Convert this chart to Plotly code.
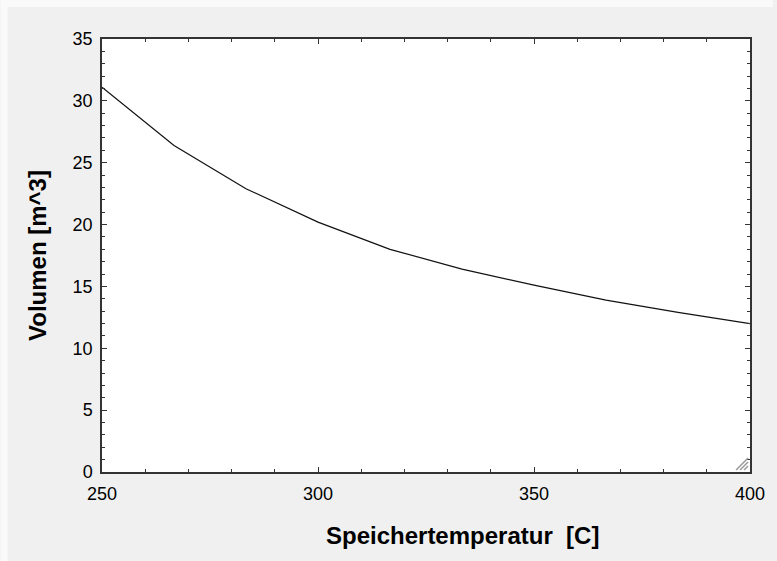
import plotly.graph_objects as go

# Storage temperature [C] and required volume [m^3]
temperature = [250, 266.67, 283.33, 300, 316.67, 333.33, 350, 366.67, 383.33, 400]
volume = [31.1, 26.4, 22.9, 20.2, 18.0, 16.4, 15.1, 13.9, 12.9, 12.0]

x_title = "Speichertemperatur  [C]"
y_title = "Volumen [m^3]"

W, H = 777, 561
L, R, T, B = 102, 23, 39, 89
pw, ph = W - L - R, H - T - B


def px_x(p):
    return (p - L) / pw


def px_y(p):
    return (H - B - p) / ph


fig = go.Figure()
fig.add_trace(go.Scatter(
    x=temperature, y=volume, mode="lines",
    line=dict(color="#111111", width=1.2),
    showlegend=False, hoverinfo="skip",
))

font = dict(family="Liberation Sans, Arial, sans-serif", color="#000000")

axis_common = dict(
    showline=True, linecolor="#333333", linewidth=1.5, mirror="allticks",
    ticks="inside", tickcolor="#333333", tickwidth=1.2, ticklen=5,
    showgrid=False, zeroline=False,
    tickfont=dict(size=18, **font),
)

fig.update_layout(
    width=W, height=H,
    margin=dict(l=L, r=R, t=T, b=B),
    paper_bgcolor="#f0f0f0", plot_bgcolor="#ffffff",
    xaxis=dict(
        range=[250, 400], dtick=50, tick0=250,
        minor=dict(dtick=10, ticks="inside", ticklen=3, tickcolor="#333333", tickwidth=1.2),
        ticklabelstandoff=5,
        **axis_common,
    ),
    yaxis=dict(
        range=[0, 35], dtick=5, tick0=0,
        minor=dict(dtick=1, ticks="inside", ticklen=3, tickcolor="#333333", tickwidth=1.2),
        title=dict(text=y_title, font=dict(size=24, weight="bold", **font), standoff=19),
        ticklabelstandoff=4,
        **axis_common,
    ),
)

# x-axis title, set slightly right of the plot centre
fig.add_annotation(
    text=x_title, xref="paper", yref="paper",
    x=px_x(465), y=px_y(535), xanchor="center", yanchor="middle",
    showarrow=False, font=dict(size=24, weight="bold", **font),
)

# light window frame strips along top and left edges
fig.add_shape(type="rect", xref="paper", yref="paper", layer="below",
              x0=px_x(0), x1=px_x(7), y0=px_y(H), y1=px_y(0),
              fillcolor="#fafafa", line_width=0)
fig.add_shape(type="rect", xref="paper", yref="paper", layer="below",
              x0=px_x(0), x1=px_x(W), y0=px_y(7), y1=px_y(0),
              fillcolor="#fafafa", line_width=0)

# resize grip in the lower-right corner of the plot
for off in (4, 8, 12):
    fig.add_shape(type="line", xref="paper", yref="paper",
                  x0=px_x(752 - off), y0=px_y(470), x1=px_x(752), y1=px_y(470 - off),
                  line=dict(color="#9a9a9a", width=1.5))

fig.write_html("out.html")
